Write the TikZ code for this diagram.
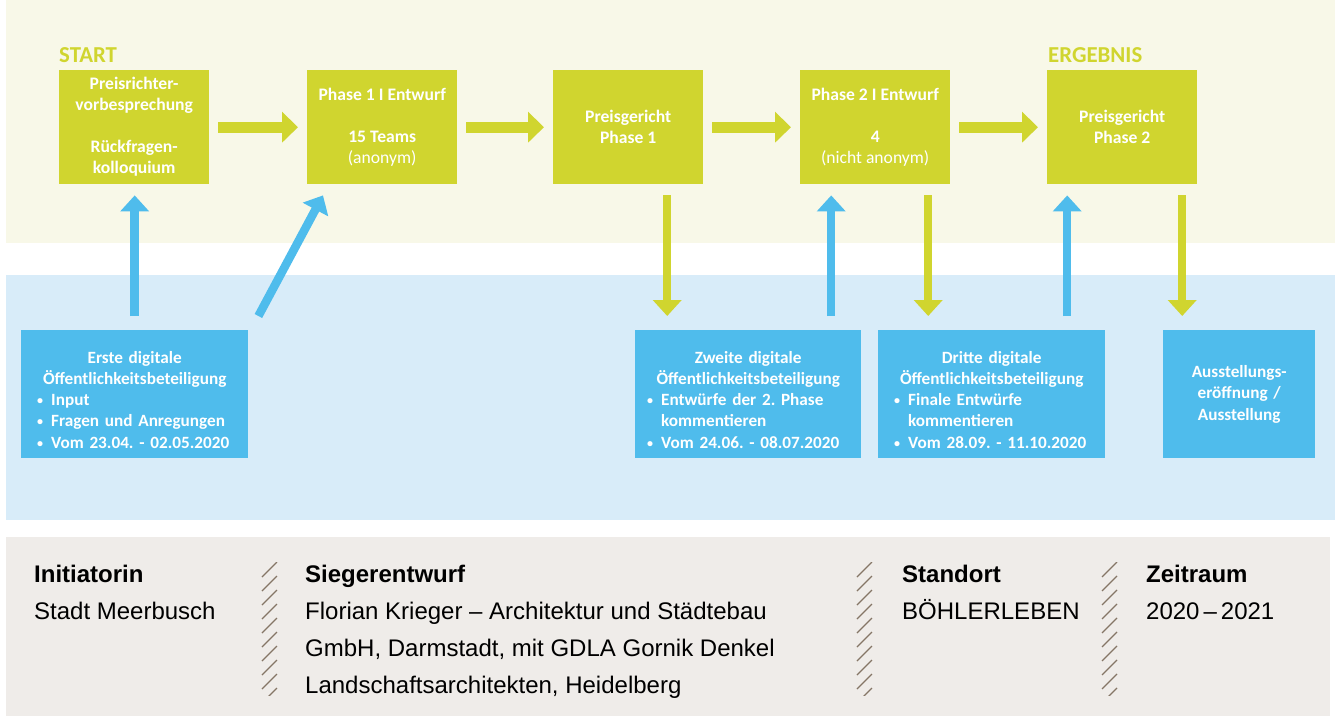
\documentclass[tikz,border=0pt]{standalone}
\usepackage{fontspec}
\setmainfont{Liberation Sans}
\newfontfamily\calib{Carlito}
\usetikzlibrary{arrows.meta}
\setlength\parindent{0pt}
\frenchspacing

\definecolor{cream}{HTML}{F8F8E8}
\definecolor{grn}{HTML}{D0D52F}
\definecolor{skyband}{HTML}{D8ECF9}
\definecolor{blu}{HTML}{4FBCEC}
\definecolor{greyband}{HTML}{EFECE9}
\definecolor{hatchcol}{HTML}{857666}

\newcommand\bitem[1]{\par\hangindent=14pt\hangafter=1\noindent\makebox[14pt][l]{\raisebox{1pt}{\scalebox{0.7}{•}}}#1}

\begin{document}
\begin{tikzpicture}[x=1pt, y=-1pt,
    phase/.style={fill=grn, text=white, anchor=north west, minimum width=150pt, minimum height=114pt,
      inner sep=0pt, align=center, font=\calib\bfseries\fontsize{17.6}{21}\selectfont},
    pub/.style={fill=blu, text=white, anchor=north west, minimum height=128pt, inner xsep=16pt,
      inner ysep=0pt, font=\calib\bfseries\fontsize{17.2}{21.3}\selectfont},
    tag/.style={text=grn, anchor=base west, inner sep=0pt, font=\calib\bfseries\fontsize{22.8}{25}\selectfont},
    info/.style={anchor=north west, inner sep=0pt, align=left, font=\fontsize{24}{37}\selectfont},
    greenarr/.style={draw=grn, line width=11pt, -{Triangle[length=16pt,width=30pt]}, shorten <=9pt, shorten >=9pt},
    greendown/.style={draw=grn, line width=8.5pt, -{Triangle[length=16pt,width=28pt]}, shorten <=11pt, shorten >=14pt},
    bluearr/.style={draw=blu, line width=8.5pt, -{Triangle[length=16pt,width=28pt]}},
    blueup/.style={bluearr, shorten <=14pt, shorten >=11pt}]
  \useasboundingbox (0,0) rectangle (1335,716);

  % bands
  \fill[cream] (6,0) rectangle (1335,243);
  \fill[skyband] (6,275) rectangle (1335,520);
  \fill[greyband] (6,537) rectangle (1330,716);

  % phases
  \node[tag] (start) at (59,62) {START};
  \node[tag] (erg) at (1048,62) {ERGEBNIS};
  \node[phase] (p1) at (59,70) {Preisrichter-\\vorbesprechung\\[21pt]Rückfragen-\\kolloquium};
  \node[phase] (p2) at (307,70) {Phase 1 I Entwurf\\[21pt]15 Teams\\{\mdseries (anonym)}};
  \node[phase] (p3) at (553,70) {Preisgericht\\Phase 1};
  \node[phase] (p4) at (800,70) {Phase 2 I Entwurf\\[21pt]4\\{\mdseries (nicht anonym)}};
  \node[phase] (p5) at (1047,70) {Preisgericht\\Phase 2};

  % participation
  \node[pub, text width=195pt] (b1) at (21,330) {\centering\rule{0pt}{23pt}Erste digitale\\Öffentlichkeitsbeteiligung\par\raggedright
    \bitem{Input}\bitem{Fragen und Anregungen}\bitem{Vom 23.04. - 02.05.2020}};
  \node[pub, text width=202pt, inner xsep=12pt] (b2) at (635,330) {\centering\rule{0pt}{23pt}Zweite digitale\\Öffentlichkeitsbeteiligung\par\raggedright
    \bitem{Entwürfe der 2. Phase\newline kommentieren}\bitem{Vom 24.06. - 08.07.2020}};
  \node[pub, text width=195pt] (b3) at (878,330) {\centering\rule{0pt}{23pt}Dritte digitale\\Öffentlichkeitsbeteiligung\par\raggedright
    \bitem{Finale Entwürfe\newline kommentieren}\bitem{Vom 28.09. - 11.10.2020}};
  \node[pub, text width=120pt, align=center] (b4) at (1163,330) {Ausstellungs-\\eröffnung /\\Ausstellung};

  \foreach \a/\b in {p1/p2,p2/p3,p3/p4,p4/p5}
    \draw[greenarr] (\a) -- (\b);

  \coordinate (d3) at ([xshift=39pt]p3.south);
  \coordinate (d4) at ([xshift=53pt]p4.south);
  \coordinate (d5) at ([xshift=60pt]p5.south);
  \draw[greendown] (d3) -- (d3 |- b2.north);
  \draw[greendown] (d4) -- (d4 |- b3.north);
  \draw[greendown] (d5) -- (d5 |- b4.north);

  \coordinate (u2) at ([xshift=83pt]b2.north);
  \coordinate (u3) at ([xshift=75.5pt]b3.north);
  \draw[blueup] (b1.north) -- (b1.north |- p1.south);
  \draw[blueup] (u2) -- (u2 |- p4.south);
  \draw[blueup] (u3) -- (u3 |- p5.south);
  \draw[bluearr] ([shift={(10pt,14pt)}]b1.north east) -- ([shift={(16pt,-11pt)}]p2.south west);

  % facts
  \foreach \hx in {262,857,1102} {
    \begin{scope}
      \clip (\hx-2,562) rectangle (\hx+17,695);
      \foreach \i in {0,...,9}
        \draw[hatchcol, line width=1.2pt] (\hx,577+14*\i) -- ++(15,-15);
    \end{scope}
  }
  \node[info] (ini) at (34,564.5) {\textbf{Initiatorin}\\Stadt Meerbusch};
  \node[info] (sieg) at (305,564.5) {\textbf{Siegerentwurf}\\Florian Krieger – Architektur und Städtebau\\GmbH, Darmstadt, mit GDLA Gornik Denkel\\Landschaftsarchitekten, Heidelberg};
  \node[info] (ort) at (902,564.5) {\textbf{Standort}\\BÖHLERLEBEN};
  \node[info] (zeit) at (1146,564.5) {\textbf{Zeitraum}\\2020\,–\,2021};
\end{tikzpicture}
\end{document}
